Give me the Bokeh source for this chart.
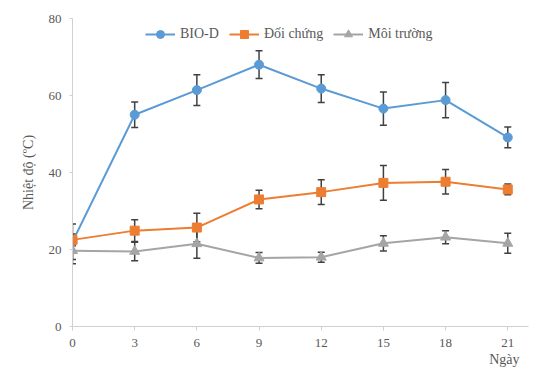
from bokeh.plotting import figure
from bokeh.models import ColumnDataSource, Whisker, TeeHead, Legend, LegendItem, Title, FixedTicker
from bokeh.embed import file_html
from bokeh.resources import INLINE

days = [0, 3, 6, 9, 12, 15, 18, 21]
bio_d = [22.0, 55.0, 61.4, 68.0, 61.8, 56.6, 58.8, 49.1]
bio_d_err = [4.6, 3.3, 4.0, 3.6, 3.6, 4.3, 4.6, 2.7]
doi_chung = [22.5, 24.9, 25.7, 33.0, 34.9, 37.3, 37.6, 35.6]
doi_chung_err = [1.5, 2.8, 3.7, 2.4, 3.2, 4.5, 3.2, 1.4]
moi_truong = [19.7, 19.5, 21.5, 17.8, 18.0, 21.6, 23.2, 21.6]
moi_truong_err = [3.4, 2.4, 3.8, 1.4, 1.3, 2.0, 1.7, 2.6]

x_ticks = [0, 3, 6, 9, 12, 15, 18, 21]
y_ticks = [0, 20, 40, 60, 80]

FONT = "Liberation Serif"
TXT = "#595959"
AX = "#d0d0d0"

p = figure(width=544, height=367, output_backend="svg", toolbar_location=None,
           x_range=(0, 22), y_range=(0, 80),
           min_border_left=72, min_border_right=16, min_border_top=18, min_border_bottom=41)
p.outline_line_color = None
p.xgrid.grid_line_color = None
p.ygrid.grid_line_color = None

series = [
    ("BIO-D", bio_d, bio_d_err, "#5B9BD5", "circle"),
    ("Đối chứng", doi_chung, doi_chung_err, "#ED7D31", "square"),
    ("Môi trường", moi_truong, moi_truong_err, "#A5A5A5", "triangle"),
]

items = []
for name, vals, errs, col, mk in series:
    src = ColumnDataSource(dict(x=days, y=vals,
                                lo=[v - e for v, e in zip(vals, errs)],
                                hi=[v + e for v, e in zip(vals, errs)]))
    w = Whisker(source=src, base="x", lower="lo", upper="hi",
                line_color="#404040", line_width=1.5,
                upper_head=TeeHead(size=7, line_color="#404040", line_width=1.5),
                lower_head=TeeHead(size=7, line_color="#404040", line_width=1.5))
    p.add_layout(w)
    r1 = p.line("x", "y", source=src, line_color=col, line_width=2)
    r2 = p.scatter("x", "y", source=src, marker=mk, size=9 if mk != "triangle" else 10,
                   fill_color=col, line_color=col)
    items.append(LegendItem(label=name, renderers=[r1, r2]))

legend = Legend(items=items, orientation="horizontal", location=(73, 282),
                padding=0, margin=0, spacing=10, glyph_width=30, label_standoff=5,
                border_line_color=None, background_fill_alpha=0,
                label_text_font=FONT, label_text_font_size="14px", label_text_color=TXT)
p.add_layout(legend, "center")

p.xaxis.ticker = FixedTicker(ticks=x_ticks)
p.yaxis.ticker = FixedTicker(ticks=y_ticks)
for ax in (p.xaxis, p.yaxis):
    ax.axis_line_color = AX
    ax.major_tick_line_color = AX
    ax.minor_tick_line_color = None
    ax.major_label_text_font = FONT
    ax.major_label_text_font_size = "13px"
    ax.major_label_text_color = TXT
p.xaxis.major_tick_in = 0
p.xaxis.major_tick_out = 4
p.yaxis.major_tick_in = 0
p.yaxis.major_tick_out = 3
p.xaxis.major_label_standoff = 8
p.yaxis.major_label_standoff = 8
p.yaxis.axis_label = "Nhiệt độ (ºC)"
p.yaxis.axis_label_text_font = FONT
p.yaxis.axis_label_text_font_size = "14px"
p.yaxis.axis_label_text_font_style = "normal"
p.yaxis.axis_label_text_color = TXT
p.yaxis.axis_label_standoff = 10

t = Title(text="Ngày", align="right", offset=9, standoff=0,
          text_font=FONT, text_font_size="14px", text_font_style="normal", text_color=TXT)
p.add_layout(t, "below")

open("out.html", "w").write(file_html(p, INLINE))
